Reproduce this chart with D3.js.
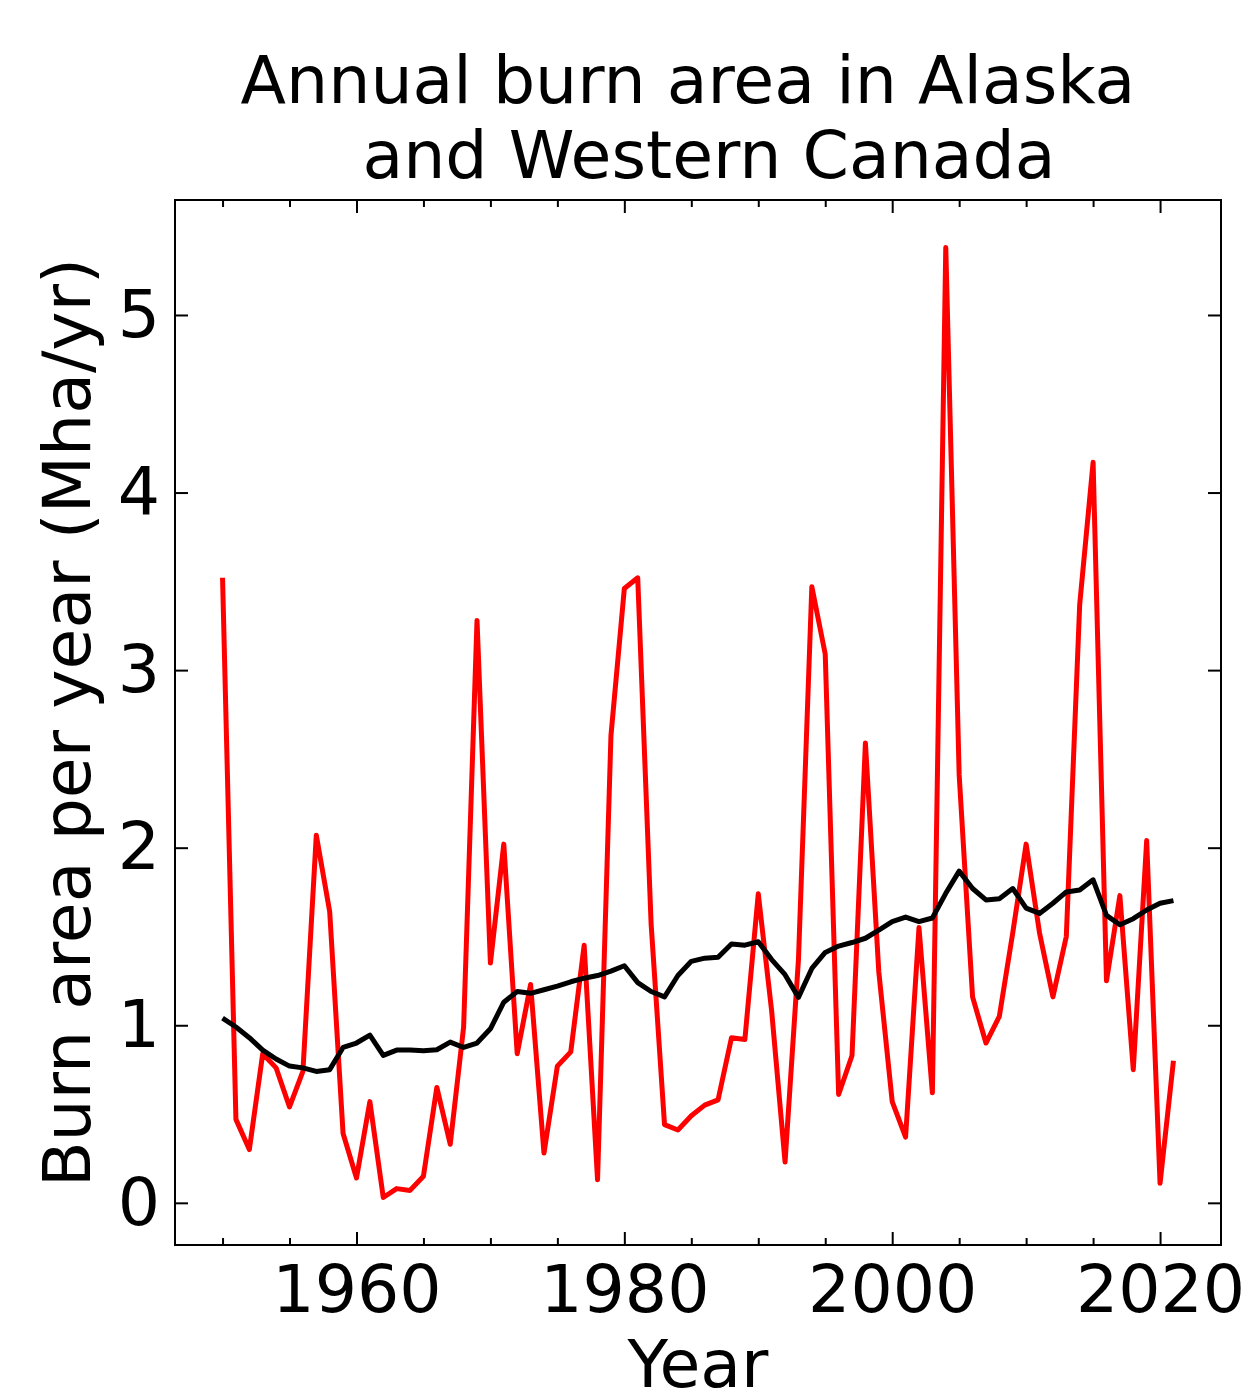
<!DOCTYPE html>
<html>
<head>
<meta charset="utf-8">
<script src="https://cdn.jsdelivr.net/npm/d3@7"></script>
<style>
  body { margin: 0; background: #fff; }
  text { font-family: "DejaVu Sans", sans-serif; }
</style>
</head>
<body>
<svg id="chart"></svg>
<script>
const width = 1256;
const height = 1395;
const margin = {left: 175, right: 35, top: 200, bottom: 150};

// burn area per year, 1950..2021 (Mha/yr)
const years = d3.range(1950, 2022);
const burnArea = [
    3.52, 0.47, 0.30, 0.84, 0.76, 0.54, 0.74, 2.07, 1.64, 0.39,
    0.14, 0.57, 0.03, 0.08, 0.07, 0.15, 0.65, 0.33, 0.99, 3.28,
    1.35, 2.02, 0.84, 1.23, 0.28, 0.77, 0.85, 1.45, 0.13, 2.63,
    3.46, 3.52, 1.57, 0.44, 0.41, 0.49, 0.55, 0.58, 0.93, 0.92,
    1.74, 1.08, 0.23, 1.37, 3.47, 3.09, 0.61, 0.83, 2.59, 1.30,
    0.57, 0.37, 1.55, 0.62, 5.38, 2.41, 1.16, 0.90, 1.05, 1.52,
    2.02, 1.52, 1.16, 1.50, 3.37, 4.17, 1.25, 1.73, 0.75, 2.04,
    0.11, 0.80
];
// running mean
const runningMean = [
    1.04, 0.99, 0.93, 0.86, 0.81, 0.77, 0.76, 0.74, 0.75, 0.875,
    0.90, 0.945, 0.83, 0.86, 0.86, 0.857, 0.862, 0.905, 0.875, 0.90,
    0.98, 1.13, 1.19, 1.18, 1.20, 1.22, 1.245, 1.265, 1.28, 1.305,
    1.335, 1.24, 1.19, 1.16, 1.28, 1.36, 1.378, 1.383, 1.458, 1.451,
    1.47, 1.37, 1.285, 1.157, 1.32, 1.41, 1.446, 1.466, 1.49, 1.536,
    1.584, 1.609, 1.584, 1.604, 1.743, 1.868, 1.77, 1.706, 1.713, 1.77,
    1.66, 1.63, 1.687, 1.751, 1.762, 1.819, 1.619, 1.566, 1.60, 1.649,
    1.687, 1.702
];
const xMajor = [1960, 1980, 2000, 2020];
const xMinor = [1950, 1955, 1965, 1970, 1975, 1985, 1990, 1995, 2005, 2010, 2015];
const yTicks = [0, 1, 2, 3, 4, 5];

const svg = d3.select('#chart')
    .attr('width', width)
    .attr('height', height);

const x = d3.scaleLinear()
    .domain([1946.45, 2024.55])
    .range([margin.left, width - margin.right]);

const y = d3.scaleLinear()
    .domain([-0.2375, 5.6475])
    .range([height - margin.bottom, margin.top]);

const fontSize = 66.5;

// axes
function styleAxis(g) {
    g.select('.domain').remove();
    g.selectAll('line').attr('stroke', '#000').attr('stroke-width', 2);
    g.selectAll('text').attr('font-size', fontSize).attr('fill', '#000')
        .style('font-family', '"DejaVu Sans", sans-serif');
}

svg.append('g')
    .attr('transform', `translate(0, ${height - margin.bottom})`)
    .call(d3.axisBottom(x).tickValues(xMajor).tickFormat(d3.format('d')).tickSize(-13).tickPadding(20))
    .call(styleAxis);
svg.append('g')
    .attr('transform', `translate(0, ${height - margin.bottom})`)
    .call(d3.axisBottom(x).tickValues(xMinor).tickFormat('').tickSize(-7))
    .call(styleAxis);
svg.append('g')
    .attr('transform', `translate(0, ${margin.top})`)
    .call(d3.axisTop(x).tickValues(xMajor).tickFormat('').tickSize(-13))
    .call(styleAxis);
svg.append('g')
    .attr('transform', `translate(0, ${margin.top})`)
    .call(d3.axisTop(x).tickValues(xMinor).tickFormat('').tickSize(-7))
    .call(styleAxis);

svg.append('g')
    .attr('transform', `translate(${margin.left}, 0)`)
    .call(d3.axisLeft(y).tickValues(yTicks).tickFormat(d3.format('d')).tickSize(-13).tickPadding(15))
    .call(styleAxis);
svg.append('g')
    .attr('transform', `translate(${width - margin.right}, 0)`)
    .call(d3.axisRight(y).tickValues(yTicks).tickFormat('').tickSize(-13))
    .call(styleAxis);

// lines
const line = d3.line()
    .x((d, i) => x(years[i]))
    .y(d => y(d));

svg.append('path')
    .datum(burnArea)
    .attr('fill', 'none')
    .attr('stroke', '#ff0000')
    .attr('stroke-width', 5)
    .attr('stroke-linejoin', 'round')
    .attr('d', line);

svg.append('path')
    .datum(runningMean)
    .attr('fill', 'none')
    .attr('stroke', '#000')
    .attr('stroke-width', 5)
    .attr('stroke-linejoin', 'round')
    .attr('d', line);

// frame
svg.append('rect')
    .attr('x', margin.left)
    .attr('y', margin.top)
    .attr('width', width - margin.left - margin.right)
    .attr('height', height - margin.top - margin.bottom)
    .attr('fill', 'none')
    .attr('stroke', '#000')
    .attr('stroke-width', 2);

// title and labels
svg.append('text')
    .attr('x', 688).attr('y', 103)
    .attr('text-anchor', 'middle')
    .attr('font-size', fontSize)
    .text('Annual burn area in Alaska');
svg.append('text')
    .attr('x', 709).attr('y', 178)
    .attr('text-anchor', 'middle')
    .attr('font-size', fontSize)
    .text('and Western Canada');

svg.append('text')
    .attr('x', (margin.left + width - margin.right) / 2)
    .attr('y', 1387)
    .attr('text-anchor', 'middle')
    .attr('font-size', fontSize)
    .text('Year');

svg.append('text')
    .attr('transform', `translate(90, ${(margin.top + height - margin.bottom) / 2}) rotate(-90)`)
    .attr('text-anchor', 'middle')
    .attr('font-size', fontSize)
    .text('Burn area per year (Mha/yr)');
</script>
</body>
</html>
